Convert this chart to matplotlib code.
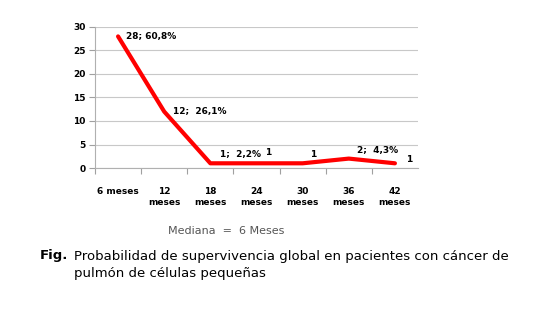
import matplotlib.pyplot as plt
import numpy as np

categories = ['6 meses', '12\nmeses', '18\nmeses', '24\nmeses', '30\nmeses', '36\nmeses', '42\nmeses']
pacientes = [28, 12, 1, 1, 1, 2, 1]
etiquetas = ['28; 60,8%', '12;  26,1%', '1;  2,2%', '1', '1', '2;  4,3%', '1']
label_offsets = [(6, 0), (6, 0), (7, 6), (6, 8), (5, 6), (6, 6), (8, 3)]

fig = plt.figure(figsize=(5.59, 3.13), dpi=100)
ax = fig.add_axes([95 / 559, 1 - 168 / 313, 323 / 559, 141 / 313])

x = np.arange(len(categories))
ax.plot(x, pacientes, color='#ff0000', lw=3, solid_capstyle='round', zorder=3)

for xi, yi, txt, off in zip(x, pacientes, etiquetas, label_offsets):
    ax.annotate(txt, (xi, yi), xytext=off, textcoords='offset points',
                fontsize=6.5, fontweight='bold', ha='left', va='center')

ax.set_xlim(-0.5, len(categories) - 0.5)
ax.set_ylim(0, 30)
ax.set_yticks(range(0, 31, 5))
ax.yaxis.grid(True, color='#c8c8c8', lw=0.8)
ax.set_axisbelow(True)

# separadores entre categorias (estilo Excel), sin marca al final
ax.set_xticks(np.arange(-0.5, len(categories) - 1, 1))
ax.set_xticklabels([])
ax.set_xticks(x, minor=True)
ax.set_xticklabels(categories, minor=True, fontsize=6.5, fontweight='bold', va='top')
ax.tick_params(axis='x', which='major', length=4, color='#a0a0a0', direction='out')
ax.tick_params(axis='x', which='minor', length=0, pad=14)
ax.tick_params(axis='y', length=4, color='#a0a0a0', labelsize=6.5, pad=3)
for lbl in ax.get_yticklabels():
    lbl.set_fontweight('bold')

for s in ['top', 'right']:
    ax.spines[s].set_visible(False)
ax.spines['left'].set_color('#b0b0b0')
ax.spines['bottom'].set_color('#b0b0b0')

fig.text(168 / 559, 1 - 231 / 313, 'Mediana  =  6 Meses', fontsize=8, color='#555555', va='center')
fig.text(40 / 559, 1 - 256 / 313, 'Fig.', fontsize=9.5, fontweight='bold', va='center')
fig.text(74 / 559, 1 - 265 / 313,
         'Probabilidad de supervivencia global en pacientes con cáncer de\npulmón de células pequeñas',
         fontsize=9.5, va='center', linespacing=1.35)

fig.savefig('out.png', dpi=100)
